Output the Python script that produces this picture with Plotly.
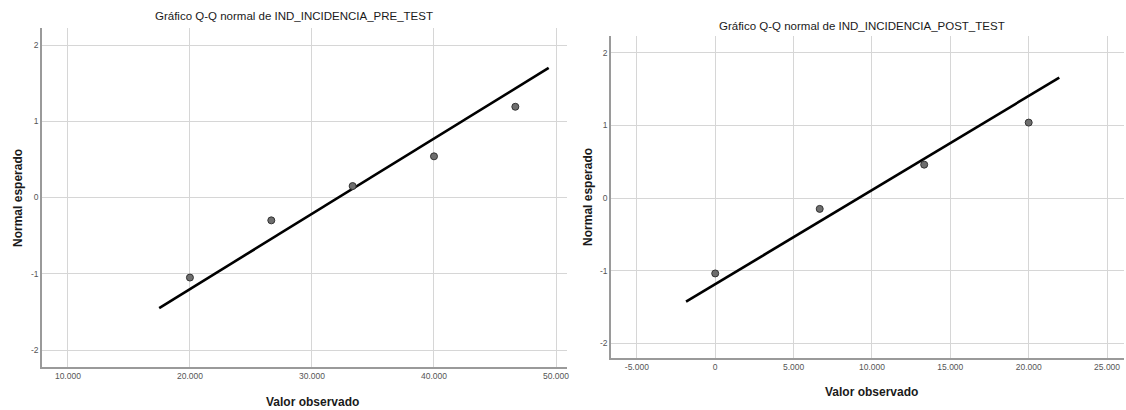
import plotly.graph_objects as go

# ---- data ----
pre_observed = [20000, 26667, 33333, 40000, 46667]
pre_expected = [-1.05, -0.30, 0.15, 0.54, 1.19]
pre_line_x = [17480, 49400]
pre_line_y = [-1.45, 1.70]

post_observed = [0, 6667, 13333, 20000]
post_expected = [-1.04, -0.15, 0.46, 1.04]
post_line_x = [-1860, 21950]
post_line_y = [-1.43, 1.66]

pre_xticks = [10000, 20000, 30000, 40000, 50000]
pre_xlabels = ["10.000", "20.000", "30.000", "40.000", "50.000"]
post_xticks = [-5000, 0, 5000, 10000, 15000, 20000, 25000]
post_xlabels = ["-5.000", "0", "5.000", "10.000", "15.000", "20.000", "25.000"]
yticks = [-2, -1, 0, 1, 2]
ylabels = ["-2", "-1", "0", "1", "2"]

title_pre = "Gráfico Q-Q normal de IND_INCIDENCIA_PRE_TEST"
title_post = "Gráfico Q-Q normal de IND_INCIDENCIA_POST_TEST"
xtitle = "Valor observado"
ytitle = "Normal esperado"

W, H = 1126, 410
NARROW = "Liberation Sans Narrow, Arial Narrow, Liberation Sans, Arial, sans-serif"
SANS = "Liberation Sans, Arial, sans-serif"

fig = go.Figure()

marker = dict(size=7, color="#6e6e6e", line=dict(color="#333333", width=1))

fig.add_trace(go.Scatter(x=pre_line_x, y=pre_line_y, mode="lines",
                         line=dict(color="black", width=2.6),
                         xaxis="x", yaxis="y", showlegend=False, hoverinfo="skip"))
fig.add_trace(go.Scatter(x=pre_observed, y=pre_expected, mode="markers",
                         marker=marker, xaxis="x", yaxis="y", showlegend=False))
fig.add_trace(go.Scatter(x=post_line_x, y=post_line_y, mode="lines",
                         line=dict(color="black", width=2.6),
                         xaxis="x2", yaxis="y2", showlegend=False, hoverinfo="skip"))
fig.add_trace(go.Scatter(x=post_observed, y=post_expected, mode="markers",
                         marker=marker, xaxis="x2", yaxis="y2", showlegend=False))

def px_x(p):
    return p / W

def px_y(p):
    return 1 - p / H

axis_common = dict(showgrid=True, gridcolor="#d6d6d6", gridwidth=1,
                   zeroline=False, showline=True, linecolor="#9a9a9a", linewidth=1.5,
                   ticks="", tickfont=dict(family=NARROW, size=8.5, color="#555555"))

fig.update_layout(
    width=W, height=H,
    margin=dict(l=0, r=0, t=0, b=0),
    paper_bgcolor="white", plot_bgcolor="white",
    xaxis=dict(domain=[px_x(42), px_x(568)], range=[7870, 50900],
               tickvals=pre_xticks, ticktext=pre_xlabels, anchor="y", **axis_common),
    yaxis=dict(domain=[px_y(367), px_y(28)], range=[-2.223, 2.223],
               tickvals=yticks, ticktext=ylabels, anchor="x", **axis_common),
    xaxis2=dict(domain=[px_x(612), 1.0], range=[-6654, 26080],
                tickvals=post_xticks, ticktext=post_xlabels, anchor="y2", **axis_common),
    yaxis2=dict(domain=[px_y(358), px_y(36)], range=[-2.206, 2.234],
                tickvals=yticks, ticktext=ylabels, anchor="x2", **axis_common),
)

ann = []
def add_text(text, x, y, size, family, color="#222222", bold=False, angle=0):
    t = f"<b>{text}</b>" if bold else text
    ann.append(dict(text=t, x=px_x(x), y=px_y(y), xref="paper", yref="paper",
                    xanchor="center", yanchor="middle", showarrow=False,
                    textangle=angle, font=dict(family=family, size=size, color=color)))

add_text(title_pre, 295, 16, 11.5, NARROW, color="#1a1a1a")
add_text(title_post, 864, 26, 11.5, NARROW, color="#1a1a1a")
add_text(xtitle, 313, 402, 12, SANS, color="#1a1a1a", bold=True)
add_text(xtitle, 873, 392, 12, SANS, color="#1a1a1a", bold=True)
add_text(ytitle, 18, 198, 12, SANS, color="#1a1a1a", bold=True, angle=-90)
add_text(ytitle, 589, 197, 12, SANS, color="#1a1a1a", bold=True, angle=-90)

fig.update_layout(annotations=ann)

fig.write_html("out.html",
               config={"displayModeBar": False},
               post_script="document.body.style.margin='0';document.body.style.overflow='hidden';")
